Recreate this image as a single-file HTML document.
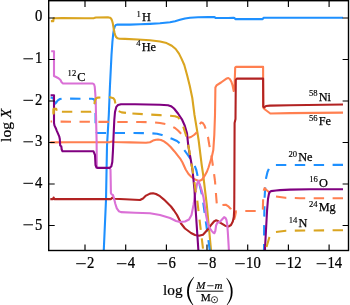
<!DOCTYPE html>
<html><head><meta charset="utf-8">
<style>
html,body{margin:0;padding:0;background:#fff;}
body{width:350px;height:305px;overflow:hidden;}
svg{display:block;will-change:transform;}
text{font-family:"Liberation Serif",serif;fill:#000;}
</style></head><body>
<svg width="350" height="305" viewBox="0 0 350 305">
<defs><clipPath id="ax"><rect x="48.7" y="0.7" width="299.8" height="249.3"/></clipPath></defs>
<g clip-path="url(#ax)" fill="none" stroke-width="2.1" stroke-linejoin="round" stroke-linecap="butt">
<path stroke="#1e90ff"  d="M103.7 252.0 L106.0 200.0 L107.0 146.0 L108.8 115.0 L110.0 85.0 L111.5 55.0 L112.4 42.0 L113.2 34.0 L113.9 29.5 L114.7 26.6 L115.8 25.0 L117.5 24.6 L130.0 24.6 L140.0 24.3 L150.0 23.9 L160.0 23.3 L165.0 22.8 L170.0 22.2 L175.0 21.2 L180.0 19.8 L185.0 18.5 L190.0 17.7 L198.0 17.3 L208.0 17.1 L214.5 17.1 L215.5 17.9 L220.0 18.0 L228.0 18.0 L233.4 17.7 L234.4 18.0 L235.4 19.1 L262.6 19.1 L263.7 17.8 L343.0 17.7"/>
<path stroke="#daa520"  d="M50.9 21.1 L53.3 21.1 L53.6 18.3 L62.0 18.1 L85.0 18.3 L94.0 18.1 L96.0 17.5 L108.5 17.4 L110.2 17.8 L111.2 18.8 L112.0 20.5 L112.8 23.3 L113.6 28.2 L114.4 32.3 L115.2 35.3 L116.2 37.2 L117.6 38.3 L119.5 38.7 L125.0 38.9 L138.0 39.5 L150.0 40.3 L160.0 41.5 L166.6 43.1 L171.8 45.7 L175.7 49.0 L179.0 53.6 L181.6 58.9 L184.3 65.0 L187.2 75.5 L189.8 86.0 L192.3 98.0 L194.5 115.0 L197.0 130.0 L197.8 135.0 L198.6 140.0 L201.7 165.0 L203.2 175.0 L205.0 190.0 L206.2 200.0 L206.8 205.0 L211.2 252.0"/>
<path stroke="#1e90ff" stroke-dasharray="10.4 8.5" stroke-dashoffset="11.77" d="M50.6 96.4 L52.5 97.0 L53.5 98.6 L54.5 101.5 L55.3 103.6 L56.5 102.2 L57.8 100.3 L60.0 99.0 L62.0 98.6 L92.0 98.8 L94.0 99.3 L95.2 102.0 L95.5 110.0 L95.6 128.0"/>
<path stroke="#1e90ff" stroke-dasharray="10.4 8.5" stroke-dashoffset="14.77" d="M95.6 128.0 L96.0 132.0 L97.0 133.0 L107.5 133.0 L133.0 133.0 L150.0 133.2 L157.0 133.8 L162.0 135.0 L167.0 136.8 L172.0 138.8 L177.0 141.0 L180.0 143.5 L184.2 150.0 L187.5 154.5 L190.5 159.0 L194.0 164.0 L196.3 170.0 L197.6 176.0 L199.2 183.0 L201.8 194.0 L203.0 201.0 L210.0 252.0"/>
<path stroke="#1e90ff" stroke-dasharray="10.4 8.5" stroke-dashoffset="2.43" d="M264.0 252.0 L264.2 220.0 L264.6 197.8 L265.3 186.0 L266.1 177.9 L267.5 172.0 L269.0 168.6 L271.5 166.0 L275.7 165.0 L343.0 164.9"/>
<path stroke="#1e90ff"  d="M50.6 97.6 L52.7 97.8 L53.5 98.8 L53.8 100.4"/>
<path stroke="#ff7f50" stroke-dasharray="10.4 8.5" stroke-dashoffset="8.90" d="M50.6 121.5 L54.0 121.5 L60.0 121.6 L100.0 121.9 L140.0 122.0 L154.0 122.3 L160.0 123.0 L166.0 124.2 L171.0 126.0 L175.0 128.0 L178.0 130.5 L180.7 133.3 L184.0 136.2 L187.5 138.0 L191.0 137.0 L194.0 135.0 L196.2 132.9 L198.0 128.0 L199.5 124.5 L201.2 122.4 L202.8 123.0 L204.5 125.5 L206.0 130.0 L208.0 137.0 L209.3 145.0 L211.0 153.0 L212.5 163.0 L213.8 172.0 L215.0 181.0"/>
<path stroke="#ff7f50" stroke-dasharray="10.4 8.5" stroke-dashoffset="6.87" d="M215.0 181.0 L215.9 193.0 L216.7 202.8 L217.2 205.8 L218.5 206.8 L220.2 206.2 L221.8 205.1 L225.7 204.7 L228.7 206.7 L230.6 208.7 L232.5 212.5 L233.7 217.0 L234.3 219.0 L235.0 216.5 L236.0 211.2 L237.5 211.0 L240.0 211.0"/>
<path stroke="#ff7f50" stroke-dasharray="10.4 8.5" stroke-dashoffset="13.60" d="M240.0 211.0 L262.8 211.0 L263.1 200.0 L263.4 191.5 L264.6 188.2 L266.8 190.3 L270.0 193.0"/>
<path stroke="#ff7f50" stroke-dasharray="10.4 8.5" stroke-dashoffset="11.89" d="M270.0 193.0 L275.0 196.3 L285.3 197.8 L300.0 198.2 L343.0 198.3"/>
<path stroke="#ff7f50"  d="M50.3 142.4 L70.0 142.3 L100.0 142.2 L110.0 142.1 L112.5 141.5 L114.0 142.0 L130.0 142.4 L146.0 142.8 L150.0 142.2 L153.0 140.6 L156.0 139.7 L158.0 139.5 L161.0 140.0 L164.0 141.4 L167.0 143.6 L170.7 147.0 L173.0 149.7 L175.3 152.4 L178.0 155.8 L180.0 158.3 L182.5 162.5 L185.7 169.5 L188.5 174.0 L191.5 177.0 L195.0 179.5 L199.0 181.0 L202.0 179.7 L204.7 175.7 L207.0 171.5 L208.5 167.5 L210.5 161.0 L212.0 156.0 L213.3 150.0 L214.3 135.0 L215.0 115.0 L215.3 95.0 L215.4 87.5 L216.5 85.4 L221.0 82.5 L226.8 78.4 L228.3 78.0 L229.8 79.0 L231.4 81.8 L232.6 85.5 L233.7 91.0 L234.6 85.0 L235.2 67.5 L236.0 66.9 L263.1 66.9 L263.2 107.0 L263.6 108.0 L265.0 109.5 L270.3 113.5 L290.0 113.1 L343.0 112.6"/>
<path stroke="#b22222"  d="M50.3 199.1 L53.0 199.1 L53.6 197.5 L54.3 199.1 L100.0 199.1 L111.0 199.1 L112.5 197.6 L114.0 198.8 L125.0 199.2 L140.0 200.0 L143.0 198.5 L146.0 195.6 L150.0 193.6 L153.0 193.2 L156.0 194.0 L160.0 196.2 L164.0 199.6 L168.0 203.5 L171.0 206.5 L174.0 210.5 L177.0 215.0 L179.0 219.0 L181.0 223.5 L185.0 228.5 L191.0 233.0 L195.0 235.0 L199.0 235.8 L203.0 234.8 L207.5 229.8 L211.7 224.2 L214.0 221.5 L215.9 220.3 L218.0 221.0 L220.1 222.6 L225.1 225.7 L228.4 226.6 L231.0 225.0 L232.8 221.5 L233.8 217.0 L234.2 210.0 L234.3 200.0 L234.6 123.0 L235.5 119.0 L235.8 80.0 L236.8 78.6 L263.1 78.6 L263.3 106.5 L264.2 107.5 L266.0 106.0 L270.0 105.6 L290.0 105.2 L343.0 104.5"/>
<path stroke="#da70d6"  d="M51.2 51.3 L54.0 51.3 L54.0 76.0 L55.6 76.8 L58.5 78.2 L60.5 80.0 L61.6 82.3 L63.0 83.5 L92.8 83.5 L94.0 84.3 L94.7 86.5 L95.2 92.4 L95.7 100.0 L96.0 115.0 L96.6 140.0 L96.8 167.5 L98.0 168.0 L109.5 168.0 L110.5 169.5 L110.7 180.0 L110.9 193.0 L111.6 194.4 L112.9 195.0 L113.6 196.8 L114.3 199.5 L115.3 203.7 L116.8 208.4 L118.8 211.2 L121.0 212.1 L135.0 212.7 L150.0 213.3 L160.0 215.0 L170.0 218.0 L176.0 221.0 L180.0 222.0 L185.0 221.5 L189.0 219.5 L191.5 215.0 L193.5 205.0 L195.5 192.0 L197.0 184.0 L198.4 181.0 L200.0 185.0 L201.7 190.5 L203.5 197.5 L204.6 205.0 L206.0 215.0 L207.6 223.0 L209.5 228.0 L211.5 230.6 L213.2 232.6 L214.4 233.2 L215.3 231.0 L216.1 225.5 L217.2 223.0 L218.5 222.3 L220.1 221.6 L222.0 219.5 L224.1 217.2 L225.5 218.0 L226.4 219.8 L227.2 224.0 L227.8 232.0 L228.3 240.0 L229.0 252.0"/>
<path stroke="#800080"  d="M50.6 95.2 L54.0 95.2 L54.0 123.0 L54.5 125.6 L55.8 128.2 L56.6 130.3 L57.9 133.3 L59.2 136.3 L59.8 139.0 L60.2 145.5 L61.3 146.3 L61.7 149.5 L62.5 151.3 L93.5 151.3 L95.0 155.0 L95.5 165.0 L96.5 167.5 L98.0 167.9 L109.5 167.9 L111.3 166.5 L112.3 162.0 L113.0 150.0 L113.6 135.0 L114.3 120.0 L115.0 112.0 L116.3 106.9 L118.0 105.0 L121.0 104.2 L135.0 104.3 L160.0 104.7 L168.0 105.2 L171.0 106.2 L174.0 108.5 L178.0 113.5 L181.9 119.3 L184.8 125.8 L187.0 133.3 L188.2 145.0 L189.5 153.0 L191.0 161.0 L192.5 170.0 L194.5 190.0 L195.0 200.0 L198.5 252.0"/>
<path stroke="#800080"  d="M264.8 252.0 L266.0 230.0 L267.1 210.0 L268.0 199.0 L268.9 194.0 L269.8 191.8 L271.0 191.1 L276.0 190.5 L280.0 190.1 L290.0 189.6 L310.0 189.3 L343.0 189.2"/>
<path stroke="#daa520" stroke-dasharray="10.4 8.5" stroke-dashoffset="4.25" d="M53.5 114.5 L53.7 109.5 L54.3 108.9 L56.5 109.2 L57.3 110.6 L58.5 111.6 L61.5 111.8 L90.5 111.8 L92.5 110.5 L94.0 106.0 L95.0 100.5 L96.2 98.2 L98.0 97.6 L106.0 97.5 L110.0 97.3 L113.5 98.3 L114.6 99.8 L115.3 103.0 L116.3 107.7 L118.4 111.0 L121.6 112.4 L126.0 112.9"/>
<path stroke="#daa520"  d="M53.6 113.5 L53.6 108.9 L56.3 108.9 L56.7 110.8"/>
<path stroke="#daa520" stroke-dasharray="10.4 8.5" stroke-dashoffset="12.48" d="M126.0 112.9 L132.0 113.4 L145.0 114.3 L160.0 115.1 L170.0 115.7 L175.0 116.2 L178.0 117.3 L180.5 120.0 L183.0 125.8 L185.9 135.0 L188.2 145.0 L189.4 151.0 L191.0 162.0 L192.6 170.0 L194.4 181.5 L195.5 190.7 L197.2 199.9 L203.4 252.0"/>
<path stroke="#daa520" stroke-dasharray="10.4 8.5" stroke-dashoffset="13.61" d="M265.0 252.0 L267.1 245.0 L269.3 237.5 L271.5 234.0 L275.4 232.1 L285.9 230.7 L343.0 230.2"/>
</g>
<rect x="48.7" y="0.7" width="299.8" height="249.8" fill="none" stroke="#000" stroke-width="1.4"/>
<g stroke="#000" stroke-width="1.15" fill="none">
<path d="M85.0 250.5V244.5M125.7 250.5V244.5M166.4 250.5V244.5M207.0 250.5V244.5M247.7 250.5V244.5M288.4 250.5V244.5M329.1 250.5V244.5"/><path d="M85.0 0.7V6.9M125.7 0.7V6.9M166.4 0.7V6.9M207.0 0.7V6.9M247.7 0.7V6.9M288.4 0.7V6.9M329.1 0.7V6.9"/><path d="M48.7 18.0H54.7M48.7 59.5H54.7M48.7 101.0H54.7M48.7 142.5H54.7M48.7 184.0H54.7M48.7 225.5H54.7"/><path d="M348.5 18.0H342.6M348.5 59.5H342.6M348.5 101.0H342.6M348.5 142.5H342.6M348.5 184.0H342.6M348.5 225.5H342.6"/>
</g>
<rect x="76.18" y="263.20" width="9.60" height="1.00" fill="#000"/>
<text transform="translate(87.08 268.20) scale(0.93 1)" font-size="15.8" text-anchor="start" stroke="#000" stroke-width="0.25">2</text>
<rect x="116.88" y="263.20" width="9.60" height="1.00" fill="#000"/>
<text transform="translate(127.78 268.20) scale(0.93 1)" font-size="15.8" text-anchor="start" stroke="#000" stroke-width="0.25">4</text>
<rect x="157.58" y="263.20" width="9.60" height="1.00" fill="#000"/>
<text transform="translate(168.48 268.20) scale(0.93 1)" font-size="15.8" text-anchor="start" stroke="#000" stroke-width="0.25">6</text>
<rect x="198.18" y="263.20" width="9.60" height="1.00" fill="#000"/>
<text transform="translate(209.08 268.20) scale(0.93 1)" font-size="15.8" text-anchor="start" stroke="#000" stroke-width="0.25">8</text>
<rect x="235.20" y="263.20" width="9.60" height="1.00" fill="#000"/>
<text transform="translate(246.10 268.20) scale(0.93 1)" font-size="15.8" text-anchor="start" stroke="#000" stroke-width="0.25">10</text>
<rect x="275.90" y="263.20" width="9.60" height="1.00" fill="#000"/>
<text transform="translate(286.80 268.20) scale(0.93 1)" font-size="15.8" text-anchor="start" stroke="#000" stroke-width="0.25">12</text>
<rect x="316.60" y="263.20" width="9.60" height="1.00" fill="#000"/>
<text transform="translate(327.50 268.20) scale(0.93 1)" font-size="15.8" text-anchor="start" stroke="#000" stroke-width="0.25">14</text>
<text transform="translate(42.30 20.90) scale(0.93 1)" font-size="15.8" text-anchor="end" stroke="#000" stroke-width="0.25">0</text>
<rect x="23.40" y="58.30" width="9.60" height="1.00" fill="#000"/>
<text transform="translate(42.30 63.00) scale(0.93 1)" font-size="15.8" text-anchor="end" stroke="#000" stroke-width="0.25">1</text>
<rect x="23.40" y="99.80" width="9.60" height="1.00" fill="#000"/>
<text transform="translate(42.30 104.50) scale(0.93 1)" font-size="15.8" text-anchor="end" stroke="#000" stroke-width="0.25">2</text>
<rect x="23.40" y="141.30" width="9.60" height="1.00" fill="#000"/>
<text transform="translate(42.30 146.00) scale(0.93 1)" font-size="15.8" text-anchor="end" stroke="#000" stroke-width="0.25">3</text>
<rect x="23.40" y="182.80" width="9.60" height="1.00" fill="#000"/>
<text transform="translate(42.30 187.50) scale(0.93 1)" font-size="15.8" text-anchor="end" stroke="#000" stroke-width="0.25">4</text>
<rect x="23.40" y="224.30" width="9.60" height="1.00" fill="#000"/>
<text transform="translate(42.30 229.50) scale(0.93 1)" font-size="15.8" text-anchor="end" stroke="#000" stroke-width="0.25">5</text>
<text x="136.60" y="21.40" font-size="12.3" stroke="#000" stroke-width="0.25"><tspan font-size="8.6" dy="-4.7" stroke-width="0.15">1</tspan><tspan dy="4.7" dx="1.1">H</tspan></text>
<text x="136.30" y="51.00" font-size="12.3" stroke="#000" stroke-width="0.25"><tspan font-size="8.6" dy="-4.7" stroke-width="0.15">4</tspan><tspan dy="4.7" dx="1.1">He</tspan></text>
<text x="67.60" y="80.90" font-size="12.3" stroke="#000" stroke-width="0.25"><tspan font-size="8.6" dy="-4.7" stroke-width="0.15">12</tspan><tspan dy="4.7" dx="1.1">C</tspan></text>
<text x="309.00" y="100.80" font-size="12.3" stroke="#000" stroke-width="0.25"><tspan font-size="8.6" dy="-4.7" stroke-width="0.15">58</tspan><tspan dy="4.7" dx="1.1">Ni</tspan></text>
<text x="309.00" y="125.30" font-size="12.3" stroke="#000" stroke-width="0.25"><tspan font-size="8.6" dy="-4.7" stroke-width="0.15">56</tspan><tspan dy="4.7" dx="1.1">Fe</tspan></text>
<text x="288.50" y="161.20" font-size="12.3" stroke="#000" stroke-width="0.25"><tspan font-size="8.6" dy="-4.7" stroke-width="0.15">20</tspan><tspan dy="4.7" dx="1.1">Ne</tspan></text>
<text x="309.20" y="186.50" font-size="12.3" stroke="#000" stroke-width="0.25"><tspan font-size="8.6" dy="-4.7" stroke-width="0.15">16</tspan><tspan dy="4.7" dx="1.1">O</tspan></text>
<text x="309.00" y="211.30" font-size="12.3" stroke="#000" stroke-width="0.25"><tspan font-size="8.6" dy="-4.7" stroke-width="0.15">24</tspan><tspan dy="4.7" dx="1.1">Mg</tspan></text>
<text x="288.80" y="227.30" font-size="12.3" stroke="#000" stroke-width="0.25"><tspan font-size="8.6" dy="-4.7" stroke-width="0.15">14</tspan><tspan dy="4.7" dx="1.1">N</tspan></text>
<text transform="translate(11,125.3) rotate(-90)" font-size="15.5" text-anchor="middle" stroke="#000" stroke-width="0.2">log <tspan font-style="italic">X</tspan></text>
<text x="163.0" y="294.6" font-size="15.3" stroke="#000" stroke-width="0.2">log</text>
<path d="M193.9 276.8Q186.6 284 187.1 291.6Q186.6 299.2 193.9 306.4L194.1 306Q188.9 299 188.9 291.6Q188.9 284.2 194.1 277.2Z" fill="#000"/>
<path d="M226.6 277.8Q232.9 284.5 232.6 291.8Q232.9 299.1 226.6 305.8L226.4 305.4Q231 298.8 230.8 291.8Q231 284.8 226.4 278.2Z" fill="#000"/>
<text x="196.3" y="288.7" font-size="11" font-style="italic" stroke="#000" stroke-width="0.2">M</text>
<rect x="207.2" y="285.4" width="6.4" height="0.8" fill="#000"/>
<text x="214.5" y="288.7" font-size="11" font-style="italic" stroke="#000" stroke-width="0.2">m</text>
<rect x="196.2" y="290.7" width="27.2" height="0.95" fill="#000"/>
<text x="200.8" y="300.8" font-size="11.2" stroke="#000" stroke-width="0.25">M</text>
<circle cx="214.5" cy="299.7" r="3.1" fill="none" stroke="#000" stroke-width="0.75"/>
<circle cx="214.5" cy="299.7" r="0.75" fill="#000"/>
</svg>
</body></html>
